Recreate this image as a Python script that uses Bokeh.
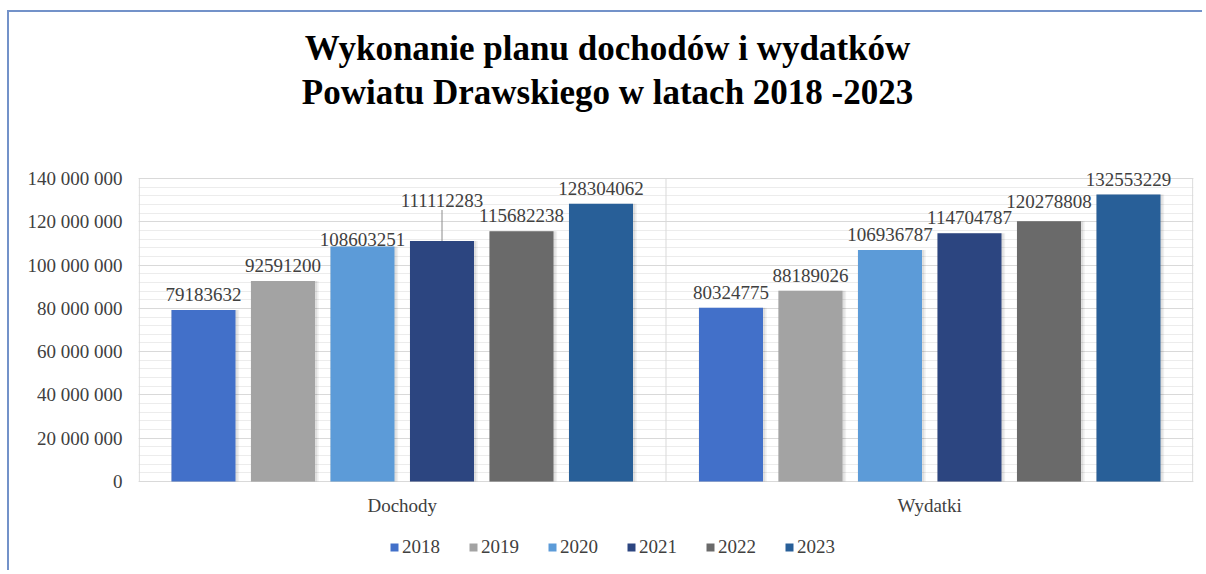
from bokeh.plotting import figure
from bokeh.models import (FactorRange, ColumnDataSource, LabelSet, Label, Legend, LegendItem,
                          FixedTicker, Range1d)
from bokeh.transform import dodge
from bokeh.embed import file_html
from bokeh.resources import INLINE

categories = ["Dochody", "Wydatki"]
years = ["2018", "2019", "2020", "2021", "2022", "2023"]
dochody = [79183632, 92591200, 108603251, 111112283, 115682238, 128304062]
wydatki = [80324775, 88189026, 106936787, 114704787, 120278808, 132553229]
tick_values = [0, 20000000, 40000000, 60000000, 80000000, 100000000, 120000000, 140000000]
tick_labels = ["0", "20 000 000", "40 000 000", "60 000 000", "80 000 000",
               "100 000 000", "120 000 000", "140 000 000"]
colors = ["#4270C9", "#A3A3A3", "#5C9BD8", "#2C4580", "#6A6A6A", "#285F98"]
title_lines = ["Wykonanie planu dochodów i wydatków", "Powiatu Drawskiego w latach 2018 -2023"]

# label lifts in pixels (styling), per year: [Dochody, Wydatki]
lifts = [[9, 9], [9, 9], [0, 9], [34, 9], [9, 13], [9, 9]]

SERIF = "Liberation Serif"
TXT = "#404040"

# ---- geometry (pixels) ----
W, H = 1195, 560           # canvas
OX, OY = 9, 12             # canvas origin on page (margin + border)
PL, PR = 138, 1193         # plot-area left/right (page)
Y0, Y140 = 481, 178        # page y of value 0 and of 140 M
y_top_val = 140000000
px_per_val = (Y0 - Y140) / y_top_val


def page_y_to_val(py):
    return (Y0 - py) / px_per_val


y_lo = page_y_to_val(OY + H)
y_hi = page_y_to_val(OY)

p = figure(x_range=FactorRange(factors=categories, range_padding=0),
           y_range=Range1d(y_lo, y_hi), width=W, height=H,
           output_backend="svg", toolbar_location=None,
           min_border_left=PL - OX, min_border_right=OX + W - PR,
           min_border_top=0, min_border_bottom=0)
p.styles = {"margin-left": "7px", "margin-top": "10px",
            "border-left": "2px solid #7392C9", "border-top": "2px solid #7392C9"}

p.outline_line_color = None
p.background_fill_color = "white"
p.border_fill_color = "white"
p.xaxis.visible = False

# grids (only within 0..140 M)
minor = list(range(0, y_top_val + 1, 4000000))
p.ygrid.ticker = FixedTicker(ticks=tick_values, minor_ticks=minor)
p.ygrid.grid_line_color = "#D9D9D9"
p.ygrid.minor_grid_line_color = "#ECECEC"
p.xgrid.grid_line_color = None

# vertical borders of the plot area and the category divider
vsrc = ColumnDataSource(dict(x=[0.0015, 1.0, 1.9985], y0=[0, 0, 0],
                             y1=[y_top_val] * 3))
p.segment(x0="x", y0="y0", x1="x", y1="y1", source=vsrc, line_color="#D9D9D9", line_width=1)

# y axis
p.yaxis.ticker = FixedTicker(ticks=tick_values)
p.yaxis.major_label_overrides = {v: l for v, l in zip(tick_values, tick_labels)}
p.yaxis.axis_line_color = None
p.yaxis.major_tick_line_color = None
p.yaxis.minor_tick_line_color = None
p.yaxis.major_tick_out = 0
p.yaxis.major_tick_in = 0
p.yaxis.minor_tick_out = 0
p.yaxis.major_label_text_font = SERIF
p.yaxis.major_label_text_font_size = "19px"
p.yaxis.major_label_text_color = TXT
p.yaxis.major_label_standoff = 16

cat_w = (PR - PL) / len(categories)
slot = 79.5 / cat_w
bar_w = 64.0 / cat_w

items = []
for i, yr in enumerate(years):
    off = (i - 2.5) * slot
    vals = [dochody[i], wydatki[i]]
    src = ColumnDataSource(dict(cat=categories, value=vals,
                                label=[str(v) for v in vals],
                                lift=lifts[i]))
    xs = dodge("cat", off, range=p.x_range)
    # soft shadow
    p.vbar(x=dodge("cat", off + 0.003, range=p.x_range), top="value", width=bar_w + 0.008,
           source=src, fill_color="#000000", fill_alpha=0.06, line_color=None)
    p.vbar(x=dodge("cat", off + 0.002, range=p.x_range), top="value", width=bar_w + 0.004,
           source=src, fill_color="#000000", fill_alpha=0.07, line_color=None)
    r = p.vbar(x=xs, top="value", width=bar_w, source=src,
               fill_color=colors[i], line_color=None)
    items.append(LegendItem(label=yr, renderers=[r]))
    p.add_layout(LabelSet(x=xs, y="value", text="label", source=src,
                          y_offset="lift", text_align="center", text_baseline="bottom",
                          text_font=SERIF, text_font_size="19px", text_color=TXT))
    # leader lines for lifted labels
    lx, ly0, ly1 = [], [], []
    for c, v, lf in zip(categories, vals, lifts[i]):
        if lf > 20:
            lx.append(c)
            ly0.append(v)
            ly1.append(v + (lf - 3) / px_per_val)
    if lx:
        lsrc = ColumnDataSource(dict(cat=lx, y0=ly0, y1=ly1))
        lxx = dodge("cat", off, range=p.x_range)
        p.segment(x0=lxx, y0="y0", x1=lxx, y1="y1", source=lsrc,
                  line_color="#8C8C8C", line_width=1)

# category labels (x axis)
csrc = ColumnDataSource(dict(cat=categories, y=[0] * len(categories)))
p.add_layout(LabelSet(x="cat", y="y", text="cat", source=csrc, y_offset=-24,
                      text_align="center", text_baseline="middle",
                      text_font=SERIF, text_font_size="19px", text_color=TXT))

# title (two lines)
title_x = (607 - PL) / cat_w
for line, py in zip(title_lines, [48, 92]):
    p.add_layout(Label(x=title_x, y=page_y_to_val(py), text=line,
                       text_align="center", text_baseline="middle",
                       text_font=SERIF, text_font_size="35px", text_font_style="bold",
                       text_color="black"))

legend = Legend(items=items, orientation="horizontal", location=(251, 14),
                glyph_width=10, glyph_height=10, label_standoff=3, spacing=28,
                label_text_font=SERIF, label_text_font_size="19px", label_text_color=TXT,
                border_line_color=None, background_fill_alpha=0, padding=0, margin=0)
p.add_layout(legend, "center")

open("out.html", "w").write(file_html(p, INLINE))
